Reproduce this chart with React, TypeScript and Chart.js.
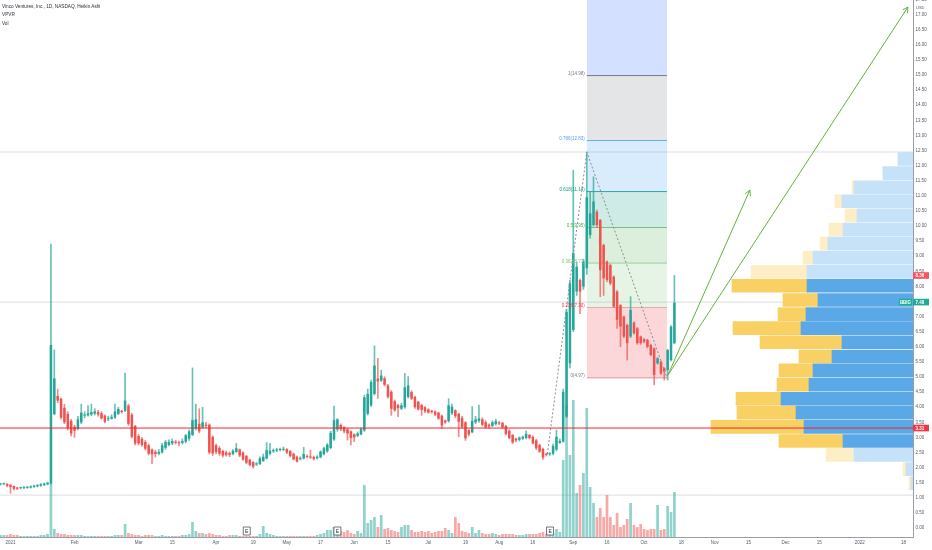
import React, { useEffect, useRef } from 'react';
import { Chart, registerables } from 'chart.js';

Chart.register(...registerables);

const FONT = "'Liberation Sans', Arial, sans-serif";

// ---- Heikin Ashi daily bars (bar index 0 = 4 Jan 2021, first bar = index -3) ----
const FIRST_INDEX = -3;
const opens = [
  1.44,1.45,1.46,1.43,1.39,1.34,1.32,1.32,1.33,1.34,
  1.36,1.38,1.40,1.42,1.45,1.48,3.77,4.37,4.28,3.98,
  3.78,3.55,3.35,3.28,3.50,3.72,3.73,3.76,3.79,3.84,
  3.80,3.72,3.60,3.62,3.66,3.78,3.88,3.88,4.05,3.75,
  3.38,3.05,2.95,2.85,2.74,2.60,2.52,2.46,2.50,2.65,
  2.75,2.80,2.86,2.84,2.82,2.86,2.96,3.08,3.30,3.45,
  3.33,3.42,3.42,3.02,2.74,2.65,2.55,2.50,2.48,2.45,
  2.52,2.60,2.50,2.39,2.26,2.18,2.10,2.12,2.22,2.30,
  2.46,2.54,2.56,2.58,2.59,2.61,2.55,2.46,2.36,2.28,
  2.30,2.38,2.37,2.35,2.31,2.34,2.44,2.54,2.65,2.93,
  3.26,3.41,3.34,3.27,3.20,3.10,3.05,3.10,3.23,3.78,
  4.06,4.44,4.95,4.88,4.96,4.72,4.51,4.20,4.07,3.95,
  4.00,4.34,4.50,4.34,4.18,4.07,4.00,3.93,3.88,3.86,
  3.82,3.72,3.56,3.54,3.80,3.90,3.78,3.64,3.50,3.24,
  3.17,3.50,3.55,3.60,3.50,3.42,3.38,3.44,3.50,3.48,
  3.38,3.22,3.08,2.96,2.92,2.96,2.98,3.08,3.02,2.90,
  2.75,2.62,2.46,2.44,2.46,2.60,2.82,2.86,3.69,5.45,
  6.56,7.83,8.21,7.99,8.60,9.70,10.03,10.47,10.20,9.37,
  8.82,8.71,8.32,7.83,7.38,7.00,6.72,6.34,6.80,6.61,
  6.34,6.25,6.23,6.06,5.95,5.45,5.51,5.29,5.23,5.56,
  6.12,
];
const highs = [
  1.48,1.49,1.47,1.44,1.40,1.35,1.35,1.37,1.38,1.40,
  1.42,1.44,1.47,1.49,1.52,9.40,5.90,4.60,4.30,4.10,
  3.85,3.60,3.40,3.70,4.10,3.85,4.05,4.10,3.95,3.90,
  3.85,3.75,3.70,3.75,4.10,4.00,3.90,5.13,4.10,3.80,
  3.40,3.10,3.00,2.90,2.78,2.62,2.58,2.60,2.80,2.90,
  2.92,2.95,2.90,2.88,2.95,3.10,3.25,5.30,4.10,3.95,
  4.00,3.50,3.45,3.05,2.78,2.70,2.58,2.55,2.52,2.60,
  2.80,2.62,2.52,2.40,2.28,2.20,2.17,2.36,2.45,2.83,
  2.80,2.62,2.64,2.65,2.68,2.63,2.57,2.48,2.38,2.36,
  2.67,2.42,2.58,2.38,2.40,2.56,2.68,2.80,3.20,4.04,
  3.62,3.45,3.36,3.30,3.22,3.12,3.18,3.32,4.40,4.60,
  4.90,6.03,5.62,5.23,5.01,4.76,4.55,4.24,4.10,4.13,
  5.12,5.01,4.55,4.37,4.20,4.10,4.02,3.95,3.90,3.88,
  3.84,3.74,3.58,4.28,4.10,3.92,3.80,3.70,3.52,3.26,
  4.02,3.70,4.07,3.65,3.55,3.45,3.55,3.60,3.52,3.50,
  3.40,3.25,3.10,2.98,3.02,3.05,3.22,3.10,3.05,2.94,
  2.78,2.65,2.48,2.50,2.78,3.24,2.95,4.60,7.25,8.20,
  11.85,8.80,8.25,8.90,12.45,11.14,11.63,10.53,10.22,9.40,
  8.85,8.74,8.35,7.86,7.40,7.02,6.75,7.66,6.83,6.64,
  6.36,6.27,6.25,6.08,5.97,5.65,5.53,5.31,5.92,6.70,
  8.36,
];
const lows = [
  1.42,1.43,1.36,1.15,1.25,1.27,1.29,1.30,1.31,1.32,
  1.34,1.36,1.38,1.40,1.43,1.45,3.75,4.15,3.60,3.45,
  3.25,3.05,3.00,3.25,3.45,3.65,3.70,3.72,3.74,3.70,
  3.60,3.48,3.55,3.60,3.62,3.75,3.80,3.85,3.40,2.98,
  2.75,2.75,2.70,2.58,2.42,2.13,2.35,2.42,2.48,2.60,
  2.72,2.76,2.78,2.72,2.78,2.82,2.90,3.05,3.25,3.15,
  3.30,3.32,2.45,2.40,2.45,2.40,2.35,2.38,2.36,2.42,
  2.50,2.36,2.24,2.12,2.05,1.98,2.07,2.10,2.20,2.28,
  2.42,2.50,2.53,2.55,2.56,2.46,2.35,2.25,2.18,2.25,
  2.28,2.32,2.30,2.25,2.28,2.32,2.42,2.50,2.62,2.90,
  3.20,3.22,3.15,2.91,2.75,2.86,3.02,3.08,3.20,3.74,
  4.02,4.40,4.29,4.85,4.70,4.30,3.73,3.86,3.69,3.92,
  3.96,4.30,4.25,3.96,3.90,3.73,3.82,3.80,3.80,3.72,
  3.60,3.30,3.46,3.50,3.75,3.65,3.02,3.30,2.90,3.05,
  3.15,3.45,3.50,3.38,3.30,3.30,3.35,3.40,3.42,3.30,
  3.08,2.95,2.80,2.85,2.88,2.93,2.95,2.95,2.78,2.60,
  2.50,2.27,2.38,2.40,2.42,2.55,2.80,2.84,3.65,5.30,
  6.50,7.70,7.10,7.90,8.40,9.60,10.00,9.95,7.66,7.70,
  8.15,8.05,7.30,6.61,6.00,6.30,5.56,6.30,6.42,6.08,
  6.08,6.13,5.96,5.70,4.74,5.42,5.08,4.90,4.90,5.52,
  6.10,
];
const closes = [
  1.46,1.47,1.40,1.36,1.30,1.30,1.33,1.35,1.36,1.38,
  1.40,1.42,1.45,1.47,1.50,6.06,4.95,4.22,3.66,3.50,
  3.30,3.13,3.22,3.60,3.82,3.76,3.80,3.84,3.86,3.76,
  3.63,3.52,3.62,3.68,3.86,3.94,3.84,4.22,3.45,3.02,
  2.80,2.80,2.75,2.63,2.46,2.44,2.45,2.52,2.74,2.85,
  2.85,2.88,2.82,2.80,2.88,3.07,3.20,3.57,3.60,3.20,
  3.50,3.38,2.50,2.47,2.52,2.46,2.40,2.42,2.42,2.56,
  2.64,2.40,2.27,2.16,2.09,2.03,2.14,2.31,2.36,2.58,
  2.56,2.58,2.60,2.60,2.62,2.50,2.38,2.27,2.20,2.31,
  2.45,2.35,2.33,2.28,2.36,2.53,2.64,2.76,3.15,3.57,
  3.60,3.27,3.20,3.13,2.98,3.00,3.13,3.28,4.33,4.44,
  4.83,5.38,4.85,5.05,4.74,4.34,3.95,3.90,3.97,4.06,
  4.66,4.72,4.28,4.00,3.93,3.91,3.86,3.82,3.84,3.75,
  3.62,3.39,3.50,4.06,4.02,3.70,3.52,3.35,2.97,3.10,
  3.55,3.60,3.63,3.42,3.33,3.36,3.50,3.54,3.46,3.33,
  3.12,2.98,2.83,2.90,2.99,3.02,3.12,2.98,2.80,2.64,
  2.53,2.33,2.42,2.47,2.72,3.02,2.88,4.51,7.16,8.10,
  9.10,8.65,7.83,8.82,10.95,10.42,10.81,10.03,8.54,8.27,
  8.21,8.10,7.33,6.89,6.67,6.34,6.12,7.22,6.45,6.12,
  6.12,6.17,6.00,5.73,5.07,5.62,5.12,5.18,5.89,6.67,
  7.46,
];
// volume, millions of shares
const volumes = [
  4,4,4,6,4,4,2,2,2,2,
  2,2,4,4,6,108,16,8,6,6,
  4,4,4,4,4,2,2,2,2,2,
  2,2,2,2,4,4,4,26,8,6,
  4,4,2,4,4,4,2,2,4,2,
  2,2,2,2,4,4,6,30,12,8,
  8,6,8,6,4,4,2,2,4,4,
  4,2,2,2,2,2,2,6,22,8,
  6,4,2,2,2,2,2,2,2,2,
  2,2,2,2,4,6,8,14,14,20,
  16,12,10,14,8,6,12,8,104,28,
  34,40,20,44,16,18,14,12,10,20,
  24,24,14,10,10,12,10,12,8,10,
  12,12,18,14,8,40,28,12,10,8,
  20,8,14,8,6,6,8,6,4,6,
  6,6,6,4,4,4,6,6,6,6,
  8,10,6,6,8,16,10,154,264,164,
  274,88,104,128,258,100,68,40,58,40,
  84,40,24,48,20,24,36,68,24,20,
  26,16,14,16,16,64,14,16,62,50,
  90,
];
const barIndex = opens.map((_, i) => i + FIRST_INDEX);

// ---- axes ----
const xTickPos = [0, 19, 38, 48, 61, 72, 82, 92, 102, 112, 124, 135, 145, 155, 167, 177, 188, 199, 209, 219, 230, 240, 252, 265];
const xTickLabels = ['2021', 'Feb', 'Mar', '15', 'Apr', '19', 'May', '17', 'Jun', '15', 'Jul', '19', 'Aug', '16', 'Sep', '16', 'Oct', '18', 'Nov', '15', 'Dec', '15', '2022', '18'];
const priceTicks = [0, 0.5, 1, 1.5, 2, 2.5, 3, 3.5, 4, 4.5, 5, 5.5, 6, 6.5, 7, 7.5, 8, 8.5, 9, 9.5, 10, 10.5, 11, 11.5, 12, 12.5, 13, 13.5, 14, 14.5, 15, 15.5, 16, 16.5, 17, 17.5];
const X_MIN = -3.116;
const X_MAX = 267.8;
const Y_MIN = -0.298;
const Y_MAX = 17.483;
const VOL_MAX = 1074;

// ---- Fibonacci retracement ----
const fibRatios = [0, 0.236, 0.382, 0.5, 0.618, 0.786, 1];
const fibPrices = [4.97, 7.30, 8.77, 9.95, 11.14, 12.83, 14.98];
const fibSpan = [171.0, 194.8];
const fibAbovePrice = 19;
const fibLineColors = ['#d9a3aa', '#f5a3aa', '#a5d6a7', '#81c784', '#26a69a', '#64b5f6', '#787b86'];
const fibFillColors = ['rgba(0,0,0,0)', 'rgba(242,54,69,0.2)', 'rgba(129,199,132,0.2)', 'rgba(76,175,80,0.2)', 'rgba(8,153,129,0.2)', 'rgba(100,181,246,0.25)', 'rgba(120,123,134,0.2)'];
const fibAboveColor = 'rgba(41,98,255,0.2)';
const fibLabelColors = ['#787b86', '#f23645', '#81c784', '#4caf50', '#089981', '#5b9cf6', '#787b86'];

// ---- Volume profile (visible range) ----
const vpPrices = [1.48, 1.95, 2.42, 2.88, 3.35, 3.82, 4.28, 4.75, 5.22, 5.68, 6.15, 6.62, 7.08, 7.55, 8.02, 8.48, 8.95, 9.42, 9.88, 10.35, 10.82, 11.28, 11.75, 12.22];
const vpUp = [10, 35, 295, 350, 545, 585, 660, 520, 500, 405, 355, 560, 535, 475, 530, 530, 500, 425, 350, 280, 355, 295, 150, 75];
const vpDown = [10, 15, 140, 320, 465, 295, 225, 160, 170, 165, 410, 340, 140, 175, 375, 280, 50, 40, 70, 60, 35, 10, 0, 0];
const vpValueArea = [3, 14];
const VP_MAX = 4565;

// ---- drawings ----
const pathT = [159.3, 171.0, 194.8];
const pathP = [2.45, 12.45, 4.97];
const arrowStart = [195.0, 5.05];
const arrowEnds = [[219.4, 11.19], [266.3, 17.25]];
const supportPrice = 3.31;
const faintLines = [12.45, 7.48, 1.09];
const earningsT = [70.1, 97.0, 160.1];
const tagPrices = [8.36, 7.48, 3.31];
const tagColors = ['#f7525f', '#22ab94', '#f23645'];
const SYMBOL = 'BBIG';

const GREEN = '#26a69a';
const RED = '#ef5350';
const GREEN_WICK = 'rgba(38,166,154,0.7)';
const RED_WICK = 'rgba(239,83,80,0.7)';

const overlayPlugin = {
  id: 'overlay',
  afterDatasetsDraw(chart: any) {
    const ctx = chart.ctx;
    chart.data.datasets.forEach((ds: any, i: number) => {
      if (!ds.arrowHead) return;
      const pts = chart.getDatasetMeta(i).data;
      const a = pts[pts.length - 2];
      const b = pts[pts.length - 1];
      const ang = Math.atan2(b.y - a.y, b.x - a.x);
      ctx.save();
      ctx.strokeStyle = ds.borderColor;
      ctx.lineWidth = 1;
      ctx.beginPath();
      [-1, 1].forEach((s) => {
        ctx.moveTo(b.x, b.y);
        ctx.lineTo(b.x - 6 * Math.cos(ang + s * 0.5), b.y - 6 * Math.sin(ang + s * 0.5));
      });
      ctx.stroke();
      ctx.restore();
    });
  },
  afterDraw(chart: any) {
    const ctx = chart.ctx;
    const xs = chart.scales.x;
    const ys = chart.scales.y;
    const area = chart.chartArea;
    ctx.save();
    // fib labels
    ctx.font = `4.5px ${FONT}`;
    ctx.textAlign = 'right';
    ctx.textBaseline = 'alphabetic';
    const fx = xs.getPixelForValue(fibSpan[0]) - 2;
    fibPrices.forEach((p, i) => {
      ctx.fillStyle = fibLabelColors[i];
      ctx.fillText(`${fibRatios[i]}(${p.toFixed(2)})`, fx, ys.getPixelForValue(p) - 0.5);
    });
    // earnings markers
    earningsT.forEach((t) => {
      const cx = xs.getPixelForValue(t);
      const top = area.bottom - 10;
      ctx.fillStyle = '#ffffff';
      ctx.strokeStyle = '#50535e';
      ctx.lineWidth = 0.8;
      ctx.beginPath();
      ctx.rect(cx - 3.5, top, 7, 8);
      ctx.fill();
      ctx.stroke();
      ctx.fillStyle = '#2a2e39';
      ctx.font = `5px ${FONT}`;
      ctx.textAlign = 'center';
      ctx.textBaseline = 'middle';
      ctx.fillText('E', cx, top + 4.3);
    });
    // price tags on the axis
    ctx.font = `bold 4.5px ${FONT}`;
    ctx.textBaseline = 'middle';
    tagPrices.forEach((p, i) => {
      const py = ys.getPixelForValue(p);
      ctx.fillStyle = tagColors[i];
      ctx.fillRect(area.right, py - 3.3, 16, 6.6);
      ctx.fillStyle = '#ffffff';
      ctx.textAlign = 'left';
      ctx.fillText(p.toFixed(2), area.right + 2.5, py + 0.3);
      if (i === 1) {
        ctx.fillStyle = tagColors[i];
        ctx.fillRect(area.right - 14, py - 3.3, 13, 6.6);
        ctx.fillStyle = '#ffffff';
        ctx.textAlign = 'center';
        ctx.fillText(SYMBOL, area.right - 7.5, py + 0.3);
      }
    });
    ctx.font = `4px ${FONT}`;
    ctx.fillStyle = '#555a66';
    ctx.textAlign = 'left';
    ctx.fillText('USD', area.right + 3, 7.5);
    ctx.restore();
  },
};

export default function App() {
  const canvasRef = useRef<HTMLCanvasElement>(null);

  useEffect(() => {
    const canvas = canvasRef.current;
    if (!canvas) return;
    Chart.defaults.font.family = FONT;

    const isUp = closes.map((c, i) => c >= opens[i]);
    const bodyColors = isUp.map((u) => (u ? GREEN : RED));
    const wickColors = isUp.map((u) => (u ? GREEN_WICK : RED_WICK));
    const volColors = isUp.map((u) => (u ? 'rgba(38,166,154,0.5)' : 'rgba(239,83,80,0.5)'));
    const inVA = (k: number) => k >= vpValueArea[0] && k <= vpValueArea[1];
    const vpBlue = vpPrices.map((_, k) => (inVA(k) ? '#5aa8e6' : '#c6e2f8'));
    const vpYellow = vpPrices.map((_, k) => (inVA(k) ? '#f9d064' : '#fdeec5'));

    const lineBase = { type: 'line', pointRadius: 0, borderWidth: 1, tension: 0, xAxisID: 'x', yAxisID: 'y' };

    const fibSets: any[] = fibPrices.map((p, i) => ({
      ...lineBase,
      data: fibSpan.map((t) => ({ x: t, y: p })),
      borderColor: fibLineColors[i],
      backgroundColor: fibFillColors[i],
      fill: i === 0 ? false : '-1',
      order: 40 - i,
    }));
    fibSets.push({
      ...lineBase,
      data: fibSpan.map((t) => ({ x: t, y: fibAbovePrice })),
      borderColor: 'rgba(0,0,0,0)',
      borderWidth: 0,
      backgroundColor: fibAboveColor,
      fill: '-1',
      order: 32,
    });

    const faintSets = faintLines.map((p) => ({
      ...lineBase,
      data: [{ x: X_MIN - 2, y: p }, { x: X_MAX + 2, y: p }],
      borderColor: 'rgba(140,143,152,0.3)',
      fill: false,
      order: 25,
    }));

    const datasets: any[] = [
      ...fibSets,
      ...faintSets,
      {
        type: 'bar',
        data: barIndex.map((t, i) => ({ x: t, y: volumes[i] })),
        yAxisID: 'yv',
        xAxisID: 'x',
        backgroundColor: volColors,
        grouped: false,
        barPercentage: 0.8,
        categoryPercentage: 1,
        borderWidth: 0,
        order: 20,
      },
      {
        type: 'bar',
        indexAxis: 'y',
        xAxisID: 'xvp',
        yAxisID: 'yvp',
        data: vpPrices.map((p, k) => ({ x: [0, vpUp[k]], y: p })),
        backgroundColor: vpBlue,
        grouped: false,
        barPercentage: 1,
        categoryPercentage: 1,
        maxBarThickness: 13,
        borderWidth: 0,
        order: 15,
      },
      {
        type: 'bar',
        indexAxis: 'y',
        xAxisID: 'xvp',
        yAxisID: 'yvp',
        data: vpPrices.map((p, k) => ({ x: [vpUp[k], vpUp[k] + vpDown[k]], y: p })),
        backgroundColor: vpYellow,
        grouped: false,
        barPercentage: 1,
        categoryPercentage: 1,
        maxBarThickness: 13,
        borderWidth: 0,
        order: 15,
      },
      {
        type: 'bar',
        data: barIndex.map((t, i) => ({ x: t, y: [lows[i], highs[i]] })),
        xAxisID: 'x',
        yAxisID: 'y',
        backgroundColor: wickColors,
        grouped: false,
        barPercentage: 1,
        categoryPercentage: 1,
        maxBarThickness: 1,
        borderWidth: 0,
        order: 6,
      },
      {
        type: 'bar',
        data: barIndex.map((t, i) => ({ x: t, y: [opens[i], closes[i]] })),
        xAxisID: 'x',
        yAxisID: 'y',
        backgroundColor: bodyColors,
        grouped: false,
        barPercentage: 0.75,
        categoryPercentage: 1,
        minBarLength: 1,
        borderWidth: 0,
        order: 5,
      },
      {
        ...lineBase,
        data: pathT.map((t, i) => ({ x: t, y: pathP[i] })),
        borderColor: '#8a8d96',
        borderDash: [2, 2],
        fill: false,
        order: 4,
      },
      {
        ...lineBase,
        data: [{ x: X_MIN - 2, y: supportPrice }, { x: X_MAX + 2, y: supportPrice }],
        borderColor: '#f0262f',
        fill: false,
        order: 3,
      },
      ...arrowEnds.map((e) => ({
        ...lineBase,
        data: [{ x: arrowStart[0], y: arrowStart[1] }, { x: e[0], y: e[1] }],
        borderColor: '#62b43a',
        fill: false,
        arrowHead: true,
        order: 1,
      })),
    ];

    const hiddenTicks = (s: any) => {
      s.ticks = [{ value: s.min }, { value: s.max }];
    };
    const noGrid = { display: false, drawTicks: false, offset: false };

    const chart = new Chart(canvas, {
      type: 'bar',
      data: { datasets },
      options: {
        responsive: false,
        animation: false,
        events: [],
        layout: { padding: 0 },
        plugins: { legend: { display: false }, tooltip: { enabled: false } },
        scales: {
          x: {
            type: 'linear',
            position: 'bottom',
            offset: false,
            min: X_MIN,
            max: X_MAX,
            bounds: 'data',
            grid: noGrid,
            border: { display: true, color: '#9a9da6', width: 1 },
            ticks: {
              autoSkip: false,
              maxRotation: 0,
              padding: 3,
              color: '#555a66',
              font: { size: 4.5, family: FONT },
              callback: (v: any) => {
                const idx = xTickPos.indexOf(Number(v));
                return idx >= 0 ? xTickLabels[idx] : '';
              },
            },
            afterBuildTicks: (s: any) => {
              s.ticks = xTickPos.map((v) => ({ value: v }));
            },
            afterFit: (s: any) => {
              s.height = 13;
              s.paddingLeft = 0;
              s.paddingRight = 0;
            },
          },
          y: {
            type: 'linear',
            position: 'right',
            offset: false,
            min: Y_MIN,
            max: Y_MAX,
            bounds: 'data',
            beginAtZero: false,
            grid: noGrid,
            border: { display: true, color: '#9a9da6', width: 1 },
            ticks: {
              autoSkip: false,
              padding: 2.5,
              color: '#555a66',
              font: { size: 4.5, family: FONT },
              callback: (v: any) => Number(v).toFixed(2),
            },
            afterBuildTicks: (s: any) => {
              s.ticks = priceTicks.map((v) => ({ value: v }));
            },
            afterFit: (s: any) => {
              s.width = 19;
              s.paddingTop = 0;
              s.paddingBottom = 0;
            },
          },
          yv: { type: 'linear', axis: 'y', display: false, offset: false, grid: noGrid, min: 0, max: VOL_MAX, bounds: 'data', afterBuildTicks: hiddenTicks },
          xvp: { type: 'linear', axis: 'x', display: false, offset: false, grid: noGrid, min: 0, max: VP_MAX, reverse: true, bounds: 'data', afterBuildTicks: hiddenTicks },
          yvp: { type: 'linear', axis: 'y', display: false, offset: false, grid: noGrid, beginAtZero: false, min: Y_MIN, max: Y_MAX, bounds: 'data', afterBuildTicks: hiddenTicks },
        },
      } as any,
      plugins: [overlayPlugin as any],
    } as any);

    return () => chart.destroy();
  }, []);

  const legendStyle = (top: number): React.CSSProperties => ({
    position: 'absolute',
    left: 2,
    top,
    fontFamily: FONT,
    fontSize: 9.4,
    lineHeight: 1,
    color: '#2a2e39',
    whiteSpace: 'nowrap',
    transform: 'scale(0.5)',
    transformOrigin: '0 0',
  });

  return (
    <div style={{ position: 'fixed', left: 0, top: 0, width: 932, height: 550, background: '#ffffff', overflow: 'hidden' }}>
      <canvas ref={canvasRef} width={932} height={550} style={{ display: 'block', width: 932, height: 550 }} />
      <div style={legendStyle(4.2)}>Vinco Ventures, Inc., 1D, NASDAQ, Heikin Ashi</div>
      <div style={legendStyle(12)}>VPVR</div>
      <div style={legendStyle(20.5)}>Vol</div>
    </div>
  );
}
